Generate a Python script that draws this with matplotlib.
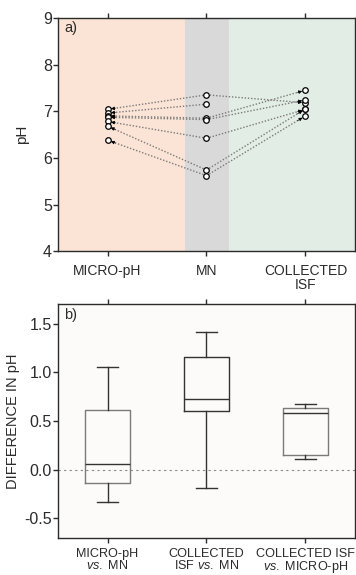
import matplotlib
matplotlib.use('Agg')
import matplotlib.pyplot as plt
import numpy as np

plt.rcParams['font.family'] = ['Liberation Sans', 'DejaVu Sans']
plt.rcParams['mathtext.fontset'] = 'custom'
plt.rcParams['mathtext.rm'] = 'Liberation Sans'
plt.rcParams['mathtext.it'] = 'Liberation Sans:italic'

# panel a) pH per subject: micro-pH, MN, collected ISF
groups = ['MICRO-pH', 'MN', 'COLLECTED\nISF']
micro_ph = [7.04, 6.96, 6.90, 6.87, 6.78, 6.68, 6.38]
mn_ph = [7.35, 7.15, 6.85, 6.82, 6.42, 5.74, 5.62]
isf_ph = [7.18, np.nan, 7.45, 7.24, 7.04, 7.05, 6.90]

# panel b) box stats of pH differences
comparisons = ['MICRO-pH\n$\\mathit{vs.}$ MN',
               'COLLECTED\nISF $\\mathit{vs.}$ MN',
               'COLLECTED ISF\n$\\mathit{vs.}$ MICRO-pH']
whis_lo = [-0.33, -0.19, 0.11]
q1 = [-0.14, 0.60, 0.15]
med = [0.06, 0.73, 0.58]
q3 = [0.61, 1.16, 0.63]
whis_hi = [1.05, 1.41, 0.67]

edge = '#2b2b2b'
fig = plt.figure(figsize=(3.56, 5.75), dpi=100)
ax1 = fig.add_axes([0.163, 0.563, 0.834, 0.406])
ax2 = fig.add_axes([0.163, 0.065, 0.834, 0.406])

# background bands
ax1.axvspan(-0.5, 0.78, color='#fbe4d5', lw=0, zorder=0)
ax1.axvspan(0.78, 1.23, color='#d9d9d9', lw=0, zorder=0)
ax1.axvspan(1.23, 2.5, color='#e2ede5', lw=0, zorder=0)

def arrow_to(ax, x0, y0, x1, y1):
    ax.plot([x0, x1], [y0, y1], ls=(0, (1, 1.3)), color='#7a7a7a', lw=1.0, zorder=2)
    xs = x0 + 0.92 * (x1 - x0)
    ys = y0 + 0.92 * (y1 - y0)
    ax.annotate('', xy=(x1, y1), xytext=(xs, ys),
                arrowprops=dict(arrowstyle='-|>', color='black', lw=0.5,
                                mutation_scale=5, shrinkA=0, shrinkB=2.5),
                zorder=3)

for m, n, c in zip(micro_ph, mn_ph, isf_ph):
    arrow_to(ax1, 1, n, 0, m)
    if not np.isnan(c):
        arrow_to(ax1, 1, n, 2, c)

xs = [0] * len(micro_ph) + [1] * len(mn_ph) + [2] * len(isf_ph)
ys = micro_ph + mn_ph + isf_ph
ax1.plot(xs, ys, 'o', ms=4, mfc='white', mec='black', mew=0.9, ls='none', zorder=4)

ax1.set_xlim(-0.5, 2.5)
ax1.set_ylim(4, 9)
ax1.set_xticks(range(3))
ax1.set_xticklabels(groups, fontsize=10, color=edge, linespacing=0.95)
ax1.set_yticks(range(4, 10))
ax1.tick_params(axis='y', labelsize=11.5, colors=edge, pad=1)
ax1.set_ylabel('pH', fontsize=11, color=edge, labelpad=10)
ax1.text(0.02, 0.985, 'a)', transform=ax1.transAxes, ha='left', va='top', fontsize=10.5, color=edge)

# panel b
ax2.set_facecolor('#fcfbf9')
stats = []
for i in range(3):
    stats.append(dict(whislo=whis_lo[i], q1=q1[i], med=med[i], q3=q3[i], whishi=whis_hi[i]))
box_cols = ['#7a7a7a', '#333333', '#7a7a7a']
bp = ax2.bxp(stats, positions=range(3), widths=0.45, showfliers=False,
             medianprops=dict(color='#333333', lw=1.0),
             whiskerprops=dict(color='#333333', lw=1.0),
             capprops=dict(color='#333333', lw=1.0),
             boxprops=dict(lw=1.0), capwidths=0.22)
for b, c in zip(bp['boxes'], box_cols):
    b.set_color(c)
ax2.axhline(0, color='#888888', ls=(0, (2, 3)), lw=0.8, zorder=0)
ax2.set_xlim(-0.5, 2.5)
ax2.set_ylim(-0.7, 1.7)
ax2.set_xticks(range(3))
ax2.set_xticklabels(comparisons, fontsize=9.1, color=edge, linespacing=0.9)
ax2.set_yticks([-0.5, 0.0, 0.5, 1.0, 1.5])
ax2.set_yticklabels(['-0.5', '0.0', '0.5', '1.0', '1.5'])
ax2.tick_params(axis='y', labelsize=11.5, colors=edge, pad=1)
ax2.set_ylabel('DIFFERENCE IN pH', fontsize=10.5, color=edge, labelpad=3)
ax2.text(0.02, 0.985, 'b)', transform=ax2.transAxes, ha='left', va='top', fontsize=10.5, color=edge)

for ax in (ax1, ax2):
    for s in ax.spines.values():
        s.set_color(edge)
        s.set_linewidth(1.0)
    ax.tick_params(direction='out', top=True, right=True, length=3.5, width=1.0, color=edge)
ax1.tick_params(axis='x', pad=6)
ax2.tick_params(axis='x', pad=4)

fig.savefig('out.png', dpi=100)
